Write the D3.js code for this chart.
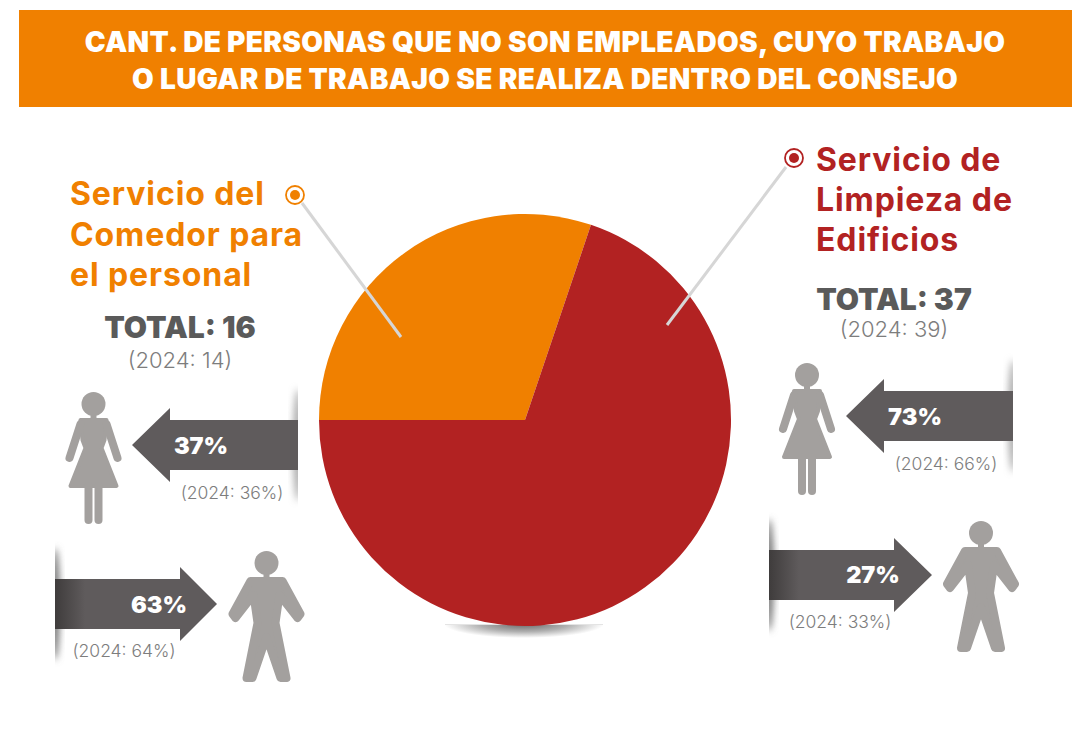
<!DOCTYPE html>
<html><head><meta charset="utf-8">
<script src="https://cdn.jsdelivr.net/npm/d3@7/dist/d3.min.js"></script>
<style>html,body{margin:0;padding:0;background:#fff}svg{display:block}text{font-family:Inter,Lato,sans-serif}</style>
</head><body><svg id="c" width="1074" height="730"></svg>
<script>
const titleLines = ["CANT. DE PERSONAS QUE NO SON EMPLEADOS, CUYO TRABAJO","O LUGAR DE TRABAJO SE REALIZA DENTRO DEL CONSEJO"];
const categories = ["Servicio del Comedor para el personal","Servicio de Limpieza de Edificios"];
const totals = [16,37];
const totalLabels = ["TOTAL: 16","TOTAL: 37"];
const prevTotals = ["(2024: 14)","(2024: 39)"];
const colors = ["#f08000","#b22222"];
const genderPct = ["37%","63%","73%","27%"];
const genderPrev = ["(2024: 36%)","(2024: 64%)","(2024: 66%)","(2024: 33%)"];

const svg = d3.select("#c");
const defs = svg.append("defs");
const orange = colors[0], red = colors[1], dark = "#5f5b5c", grey = "#a3a09e", txt = "#5a5a5a", sub = "#7d7d7d";
defs.append("filter").attr("id","bl").attr("x","-50%").attr("y","-50%").attr("width","200%").attr("height","200%")
  .append("feGaussianBlur").attr("stdDeviation",3.5);
const rg = defs.append("radialGradient").attr("id","pieShadow");
rg.append("stop").attr("offset","0").attr("stop-color","#6a6a6a");
rg.append("stop").attr("offset","0.55").attr("stop-color","#b0b0b0");
rg.append("stop").attr("offset","1").attr("stop-color","#fff");
const lg = defs.append("linearGradient").attr("id","armDark");
lg.append("stop").attr("offset","0").attr("stop-color","#3f3c3c");
lg.append("stop").attr("offset","1").attr("stop-color",dark);

svg.append("rect").attr("x",19).attr("y",10).attr("width",1053).attr("height",97).attr("fill",orange);
svg.selectAll("text.t").data(titleLines).join("text").attr("class","t")
  .attr("x",545).attr("y",(d,i)=>[52,89][i]).attr("text-anchor","middle")
  .attr("fill","#fff").style("font-weight",900).style("font-size","28px").style("letter-spacing","0.33px").text(d=>d);

// pie
const cx=525, cy=420, R=206;
defs.append("clipPath").attr("id","psc").append("rect").attr("x",445).attr("y",624).attr("width",158).attr("height",16);
svg.append("g").attr("clip-path","url(#psc)").append("ellipse")
  .attr("cx",524).attr("cy",624).attr("rx",80).attr("ry",14).attr("fill","url(#pieShadow)");
svg.append("rect").attr("x",445).attr("y",624).attr("width",158).attr("height",1).attr("fill","#e4e4e4");
const pie = d3.pie().sort(null).startAngle(-Math.PI/2).endAngle(1.5*Math.PI);
const arc = d3.arc().innerRadius(0).outerRadius(R);
svg.append("g").attr("transform",`translate(${cx},${cy})`).selectAll("path").data(pie(totals)).join("path")
  .attr("d",arc).attr("fill",(d,i)=>colors[i]);

// leaders
const leaders=[[302,203,401,337,295,195],[786,167,667,325,794,158]];
leaders.forEach((l,i)=>{
  svg.append("line").attr("x1",l[0]).attr("y1",l[1]).attr("x2",l[2]).attr("y2",l[3]).attr("stroke","#d6d6d6").attr("stroke-width",3);
  svg.append("circle").attr("cx",l[4]).attr("cy",l[5]).attr("r",9).attr("fill","#fff").attr("stroke",colors[i]).attr("stroke-width",1.8);
  svg.append("circle").attr("cx",l[4]).attr("cy",l[5]).attr("r",5).attr("fill",colors[i]);
});

// labels
const lab=[{x:70,ys:[205,246,286],l:["Servicio del","Comedor para","el personal"]},{x:816,ys:[171,211,251],l:["Servicio de","Limpieza de","Edificios"]}];
lab.forEach((g,i)=>g.l.forEach((s,j)=>svg.append("text").attr("x",g.x).attr("y",g.ys[j]).attr("fill",colors[i])
  .style("font-weight",700).style("font-size","32px").style("letter-spacing","0.9px").text(s)));
[[180,338,368],[894,310,337]].forEach((p,i)=>{
  svg.append("text").attr("x",p[0]).attr("y",p[1]).attr("text-anchor","middle").attr("fill",txt)
   .style("font-weight",900).style("font-size","30px").text(totalLabels[i]);
  svg.append("text").attr("x",p[0]).attr("y",p[2]).attr("text-anchor","middle").attr("fill",sub)
   .style("font-weight",300).style("font-size","22px").text(prevTotals[i]);
});

// arrows: [tail x, head base x, tip x, centre y]
const arrows=[[298,170,132,445],[55,180,217,604],[1013,884,846,416],[769,894,932,575]];
arrows.forEach((a,i)=>{
  const [tx,bx,px,y]=a, h=25, H=37;
  const s=(bx<tx)?1:-1;
  const id="ac"+i;
  const clipX=s>0?tx-20:tx;
  defs.append("clipPath").attr("id",id).append("rect").attr("x",clipX).attr("y",y-70).attr("width",20).attr("height",140);
  svg.append("g").attr("clip-path",`url(#${id})`).append("ellipse").attr("cx",tx).attr("cy",y)
    .attr("rx",5).attr("ry",56).attr("fill",i%2?"#777":"#aaa").attr("filter","url(#bl)");
  svg.append("path").attr("d",d3.line()([[tx,y-h],[bx,y-h],[bx,y-H],[px,y],[bx,y+H],[bx,y+h],[tx,y+h]])+"Z")
    .attr("fill",dark);
  if(i%2) svg.append("rect").attr("x",tx).attr("y",y-h).attr("width",30).attr("height",2*h).attr("fill","url(#armDark)");
});
const pctPos=[[201,454],[159,613],[915,425],[873,583]];
pctPos.forEach((p,i)=>svg.append("text").attr("x",p[0]).attr("y",p[1]).attr("text-anchor","middle").attr("fill","#fff")
  .style("font-weight",900).style("font-size","23.5px").text(genderPct[i]));
const prevPos=[[232,499],[124,657],[946,470],[840,628]];
prevPos.forEach((p,i)=>svg.append("text").attr("x",p[0]).attr("y",p[1]).attr("text-anchor","middle").attr("fill",sub)
  .style("font-weight",300).style("font-size","17.5px").text(genderPrev[i]));

// pictograms (local units: px from head centre)
function woman(x,y){
  const g=svg.append("g").attr("transform",`translate(${x},${y})`).attr("fill",grey).attr("stroke",grey).attr("stroke-linecap","round");
  g.append("circle").attr("r",12).attr("stroke","none");
  g.append("path").attr("stroke","none").attr("d","M-3,10H3V16H-3Z");
  g.append("path").attr("stroke-linejoin","round").attr("stroke-width",4).attr("d","M-13,16H13L11,36L8,44L23,82H-23L-8,44L-11,36Z");
  g.append("line").attr("x1",-13).attr("y1",20).attr("x2",-24).attr("y2",54).attr("stroke-width",8);
  g.append("line").attr("x1",13).attr("y1",20).attr("x2",24).attr("y2",54).attr("stroke-width",8);
  g.append("line").attr("x1",-5).attr("y1",82).attr("x2",-5).attr("y2",116).attr("stroke-width",8);
  g.append("line").attr("x1",5).attr("y1",82).attr("x2",5).attr("y2",116).attr("stroke-width",8);
}
function man(x,y){
  const g=svg.append("g").attr("transform",`translate(${x},${y})`).attr("fill",grey).attr("stroke",grey).attr("stroke-linejoin","round").attr("stroke-width",8);
  g.append("circle").attr("r",12).attr("stroke","none");
  g.append("path").attr("stroke","none").attr("d","M-3,10H3V16H-3Z");
  g.append("path").attr("d","M-16,18H16L34,51L31,55L13,32L9,60L20,115H14L0,74L-14,115H-20L-9,60L-13,32L-31,55L-34,51Z");
}
woman(93.5,404); man(266.5,563); woman(807,375); man(981,533);
</script></body></html>
